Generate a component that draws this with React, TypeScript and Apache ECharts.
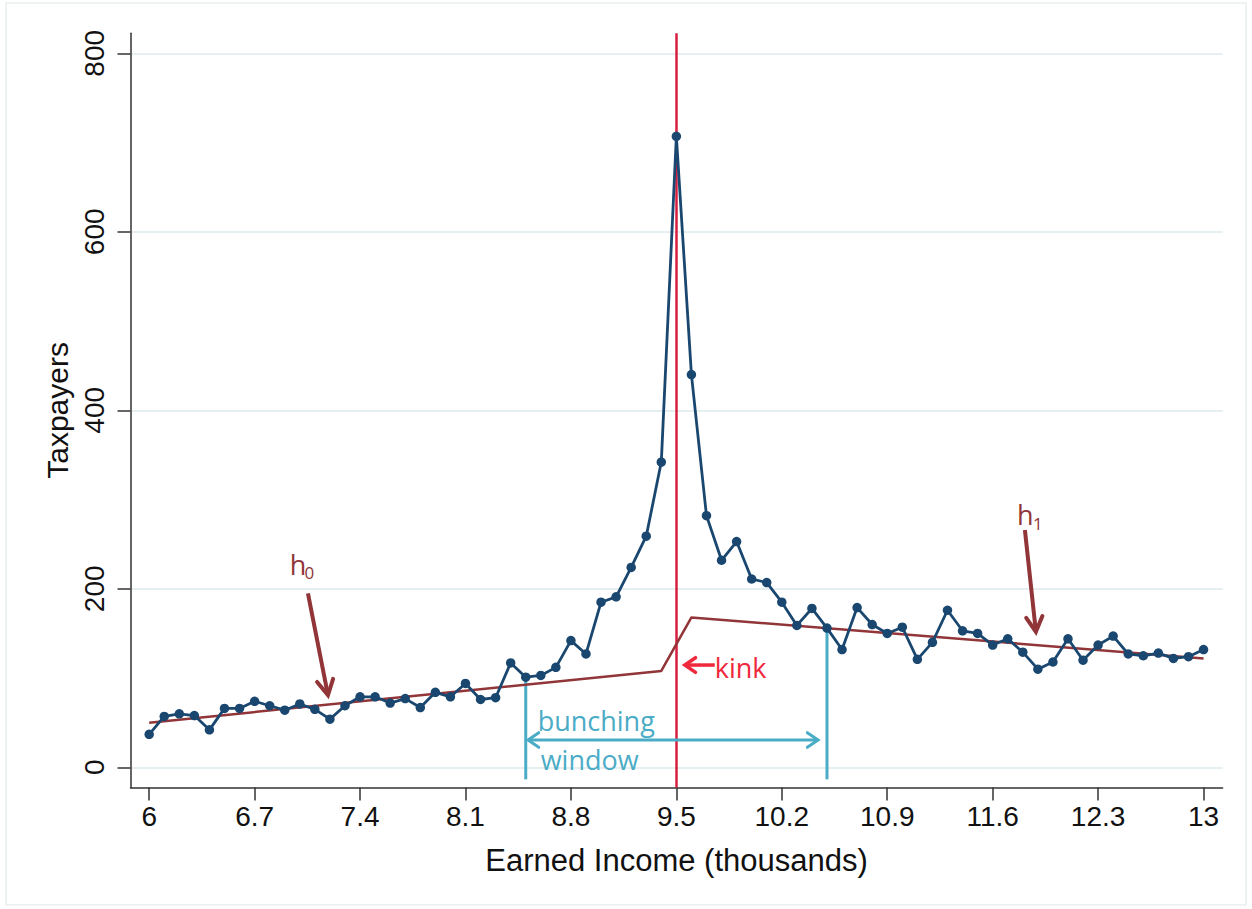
import React, { useEffect, useRef } from 'react';
import * as echarts from 'echarts';

// ---- data ----
const incomeStart = 6; // thousands
const binWidth = 0.1;
const taxpayers = [
  37, 57, 60, 58, 42, 66, 66, 74, 69, 64,
  71, 65, 54, 69, 79, 79, 72, 77, 67, 84,
  79, 94, 76, 78, 117, 101, 103, 112, 142, 127,
  185, 191, 224, 259, 342, 707, 440, 282, 232, 253,
  211, 207, 185, 159, 178, 156, 132, 179, 160, 150,
  157, 121, 140, 176, 153, 150, 137, 144, 129, 110,
  118, 144, 120, 137, 147, 127, 125, 128, 122, 124,
  132,
];
const counterfactualX = [6, 9.4, 9.6, 13];
const counterfactualY = [50, 108, 168, 122];
const xTicks = [6, 6.7, 7.4, 8.1, 8.8, 9.5, 10.2, 10.9, 11.6, 12.3, 13];
const xTickLabels = ['6', '6.7', '7.4', '8.1', '8.8', '9.5', '10.2', '10.9', '11.6', '12.3', '13'];
const yTicks = [0, 200, 400, 600, 800];
const kinkIncome = 9.5;
const windowLow = 8.5;
const windowHigh = 10.5;
const windowTopLow = 103;
const windowTopHigh = 160;
const windowBottom = -13.5;

const NAVY = '#1a476f';
const MAROON = '#913538';
const CYAN = '#4bacc6';
const KINK_RED = '#f0283c';
const VLINE_RED = '#d81e40';
const AXIS = '#333333';
const TICK_FONT = 'Liberation Sans, Arial, sans-serif';
const ANN_FONT = 'Open Sans, Noto Sans, sans-serif';

export default function App() {
  const ref = useRef<HTMLDivElement>(null);

  useEffect(() => {
    document.body.style.margin = '0';
    if (!ref.current) return;
    const chart = echarts.init(ref.current, undefined, { renderer: 'svg' });

    const points = taxpayers.map((v, i) => [Math.round((incomeStart + i * binWidth) * 10) / 10, v]);
    const fitted = counterfactualX.map((x, i) => [x, counterfactualY[i]]);

    chart.setOption({
      animation: false,
      backgroundColor: '#ffffff',
      grid: { left: 130.5, right: 29.4, top: 33.3, bottom: 121.5, containLabel: false },
      xAxis: {
        type: 'value',
        min: 5.876,
        max: 13.1265,
        name: 'Earned Income (thousands)',
        nameLocation: 'middle',
        nameGap: 57,
        nameTextStyle: { fontSize: 31, fontFamily: TICK_FONT, color: '#111' },
        axisLine: { show: true, onZero: false, lineStyle: { color: AXIS, width: 1.5 } },
        axisTick: { show: true, length: 13, inside: false, customValues: xTicks, lineStyle: { color: AXIS, width: 1.5 } },
        axisLabel: {
          customValues: xTicks,
          fontSize: 28,
          fontFamily: TICK_FONT,
          color: '#111',
          margin: 15,
          formatter: (v: number) => {
            const idx = xTicks.findIndex((t) => Math.abs(t - v) < 1e-6);
            return idx >= 0 ? xTickLabels[idx] : '';
          },
        },
        splitLine: { show: false },
      },
      yAxis: {
        type: 'value',
        min: -22.6,
        max: 822.4,
        name: 'Taxpayers',
        nameLocation: 'middle',
        nameGap: 55,
        nameTextStyle: { fontSize: 30, fontFamily: TICK_FONT, color: '#111' },
        axisLine: { show: true, onZero: false, lineStyle: { color: AXIS, width: 1.5 } },
        axisTick: { show: true, length: 13, inside: false, customValues: yTicks, lineStyle: { color: AXIS, width: 1.5 } },
        axisLabel: {
          customValues: yTicks,
          rotate: 90,
          fontSize: 28,
          fontFamily: TICK_FONT,
          color: '#111',
          margin: 22,
        },
        splitLine: { show: true, lineStyle: { color: '#e5eff1', width: 2 } },
      },
      series: [
        {
          type: 'line',
          data: [[windowLow, windowBottom], [windowLow, windowTopLow]],
          symbol: 'none',
          lineStyle: { color: CYAN, width: 3 },
          z: 2,
          silent: true,
        },
        {
          type: 'line',
          data: [[windowHigh, windowBottom], [windowHigh, windowTopHigh]],
          symbol: 'none',
          lineStyle: { color: CYAN, width: 3 },
          z: 2,
          silent: true,
        },
        {
          type: 'line',
          data: fitted,
          symbol: 'none',
          lineStyle: { color: MAROON, width: 2.5 },
          z: 3,
          markLine: {
            silent: true,
            symbol: ['none', 'none'],
            label: { show: false },
            lineStyle: { color: VLINE_RED, width: 2.5, type: 'solid' },
            data: [{ xAxis: kinkIncome }],
            z: 3,
          },
        },
        {
          type: 'line',
          data: points,
          symbol: 'circle',
          symbolSize: 9.5,
          lineStyle: { color: NAVY, width: 2.8 },
          itemStyle: { color: NAVY },
          z: 5,
        },
      ],
    });

    const px = (x: number, y: number) => chart.convertToPixel({ gridIndex: 0 }, [x, y]) as number[];

    const arrowHead = (from: number[], to: number[], len: number, ang: number) => {
      const a = Math.atan2(to[1] - from[1], to[0] - from[0]);
      return [
        [to[0] - len * Math.cos(a - ang), to[1] - len * Math.sin(a - ang)],
        [to[0], to[1]],
        [to[0] - len * Math.cos(a + ang), to[1] - len * Math.sin(a + ang)],
      ];
    };

    const arrow = (from: number[], to: number[], color: string, width: number, len: number, ang: number, both = false) => {
      const els: any[] = [
        { type: 'line', shape: { x1: from[0], y1: from[1], x2: to[0], y2: to[1] }, style: { stroke: color, lineWidth: width, lineCap: 'butt' }, z: 10 },
        { type: 'polyline', shape: { points: arrowHead(from, to, len, ang) }, style: { stroke: color, lineWidth: width, fill: 'none', lineJoin: 'miter', lineCap: 'round' }, z: 10 },
      ];
      if (both) {
        els.push({ type: 'polyline', shape: { points: arrowHead(to, from, len, ang) }, style: { stroke: color, lineWidth: width, fill: 'none', lineJoin: 'miter', lineCap: 'round' }, z: 10 });
      }
      return els;
    };

    const text = (pos: number[], t: string, size: number, color: string) => ({
      type: 'text',
      x: pos[0],
      y: pos[1],
      z: 11,
      style: {
        text: t,
        font: `${size}px ${ANN_FONT}`,
        fill: color,
        align: 'left',
        verticalAlign: 'middle',
        textAlign: 'left',
        textVerticalAlign: 'middle',
      },
    });

    const graphics: any[] = [
      { type: 'rect', shape: { x: 6, y: 3, width: 1240, height: 902 }, style: { fill: 'none', stroke: '#e9eef0', lineWidth: 1.5 }, z: 0, silent: true },
      ...arrow(px(7.054, 195), px(7.187, 81), MAROON, 4, 17, 0.5),
      ...arrow(px(11.814, 265.9), px(11.887, 151.9), MAROON, 4, 17, 0.5),
      ...arrow(px(9.755, 114.6), px(9.556, 114.6), KINK_RED, 3.5, 13, 0.6),
      ...arrow(px(8.515, 30.6), px(10.441, 30.6), CYAN, 3, 13, 0.6, true),
      text(px(6.934, 226.7), 'h', 27, MAROON),
      text(px(7.032, 218.3), '0', 17, MAROON),
      text(px(11.761, 283.8), 'h', 27, MAROON),
      text(px(11.867, 273.7), '1', 17, MAROON),
      text(px(9.755, 112.4), 'kink', 27, KINK_RED),
      text(px(8.579, 52.5), 'bunching', 27, CYAN),
      text(px(8.599, 9.3), 'window', 27, CYAN),
    ];

    chart.setOption({ graphic: { elements: graphics } });

    return () => {
      chart.dispose();
    };
  }, []);

  return <div ref={ref} style={{ width: 1252, height: 909 }} />;
}
